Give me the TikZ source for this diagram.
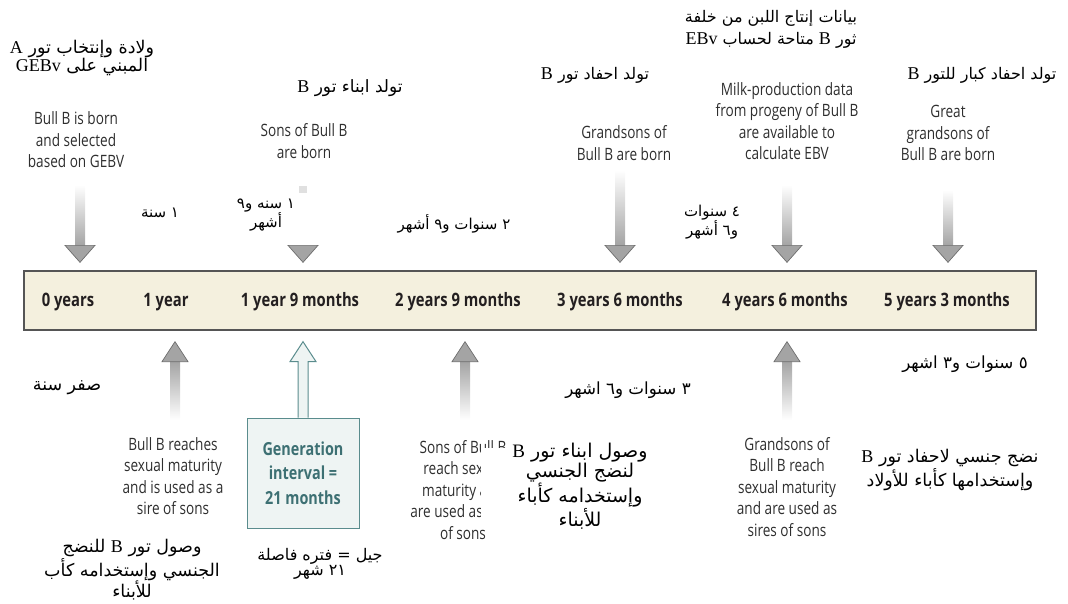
\documentclass[tikz,border=0pt]{standalone}
\usepackage{fontspec}
\usetikzlibrary{calc}
\TeXXeTstate=1
\newfontfamily\arabicfont[Script=Arabic]{DejaVu Sans}
\newfontfamily\tnr{Liberation Serif}
\newfontfamily\cond[FakeStretch=0.8]{Open Sans}
\newcommand\lat[2][18]{{\tnr\fontsize{#1}{14}\selectfont\beginL#2\endL}}
\newcommand\rl[1]{\beginR#1\endR}
\definecolor{cream}{HTML}{F4F0DE}
\definecolor{boxline}{HTML}{555555}
\definecolor{arrgray}{HTML}{A4A4A4}
\definecolor{arredge}{HTML}{6E6E6E}
\definecolor{tealline}{HTML}{5A8C8D}
\definecolor{tealfill}{HTML}{EEF4F3}
\definecolor{tealtext}{HTML}{3D7073}
\definecolor{entext}{HTML}{2E2E2E}
\definecolor{tltext}{HTML}{231F20}
\newcommand\DownArrow[3][white]{%
  \shade[top color=#1, bottom color=arrgray] ($(#2)+(-5,0)$) rectangle ($(#3)+(5,-17)$);
  \filldraw[headstyle] ($(#3)+(-15,-17)$) -- (#3) -- ($(#3)+(15,-17)$) -- cycle;}
\newcommand\UpArrow[2]{%
  \shade[top color=arrgray, bottom color=white] ($(#1)+(-5,20)$) rectangle ($(#2)+(5,0)$);
  \filldraw[headstyle] ($(#1)+(-13,20)$) -- (#1) -- ($(#1)+(13,20)$) -- cycle;}
\tikzset{
  en/.style={font=\cond\fontsize{17}{21.5}\selectfont, text=entext, align=center, inner sep=0pt},
  tlab/.style={font=\cond\bfseries\fontsize{18.5}{22}\selectfont, text=tltext, inner sep=0pt},
  ar/.style={font=\arabicfont\fontsize{16}{18}\selectfont, align=center, inner sep=0pt},
  arm/.style={font=\arabicfont\fontsize{15}{14}\selectfont, align=center, inner sep=0pt},
  headstyle/.style={fill=arrgray, draw=arredge, line width=0.7pt, line join=miter},
  tlbox/.style={draw=boxline, fill=cream, line width=1.3pt, minimum width=1012, minimum height=59, inner sep=0pt},
  genbox/.style={draw=tealline, fill=tealfill, line width=1pt, minimum width=112, minimum height=110, inner sep=0pt,
    font=\cond\bfseries\fontsize{18}{24.5}\selectfont, text=tealtext, align=center},
}
\begin{document}
\begin{tikzpicture}[x=1pt,y=-1pt]
\useasboundingbox (0,0) rectangle (1068,603);

% timeline
\node[tlbox] (tl) at (530,300.5) {};
\node[tlab] (t0) at (68,302) {0 years};
\node[tlab] (t1) at (166,302) {1 year};
\node[tlab] (t2) at (300,302) {1 year 9 months};
\node[tlab] (t3) at (458,302) {2 years 9 months};
\node[tlab] (t4) at (620,302) {3 years 6 months};
\node[tlab] (t5) at (785,302) {4 years 6 months};
\node[tlab] (t6) at (947,302) {5 years 3 months};

% top English labels
\node[en] (e0) at (76,140) {Bull B is born\\and selected\\based on GEBV};
\node[en] (e1) at (304,141) {Sons of Bull B\\are born};
\node[en] (e2) at (624,143) {Grandsons of\\Bull B are born};
\node[en] (e3) at (787,121) {Milk-production data\\from progeny of Bull B\\are available to\\calculate EBV};
\node[en] (e4) at (948,133) {Great\\grandsons of\\Bull B are born};

% top Arabic labels
\node[ar, font=\arabicfont\fontsize{17.5}{16.5}\selectfont] (a0) at (82,58) {\rl{ولادة وإنتخاب تور \lat{A}}\\\rl{المبني على \lat{GEBv}}};
\node[ar, font=\arabicfont\fontsize{17}{18}\selectfont] (a1) at (350,88) {\rl{تولد ابناء تور \lat{B}}};
\node[ar] (a2) at (595,75) {\rl{تولد احفاد تور \lat{B}}};
\node[ar, font=\arabicfont\fontsize{16}{22}\selectfont] (a3) at (771,29) {\rl{بيانات إنتاج اللبن من خلفة}\\\rl{ثور \lat{B} متاحة لحساب \lat{EBv}}};
\node[ar] (a4) at (982,75) {\rl{تولد احفاد كبار للتور \lat{B}}};

% middle Arabic labels
\node[arm] (m1) at (160,213) {\rl{١ سنة}};
\node[arm] (m2) at (266,215) {\rl{١ سنه و٩}\\\rl{أشهر}};
\node[arm] (m3) at (454,224) {\rl{٢ سنوات و٩ أشهر}};
\node[arm] (m4) at (712,222) {\rl{٤ سنوات}\\\rl{و٦ أشهر}};

% down arrows
\coordinate (d0s) at (80,185);
\coordinate (d0t) at ($(d0s |- tl.north)+(0,-8)$);
\DownArrow{d0s}{d0t}
\coordinate (d1s) at (303,186);
\coordinate (d1t) at ($(d1s |- tl.north)+(0,-8)$);
\fill[black!12] ($(d1s)+(-4,0)$) rectangle ($(d1s)+(4,7)$);
\filldraw[headstyle] ($(d1t)+(-15,-17)$) -- (d1t) -- ($(d1t)+(15,-17)$) -- cycle;
\coordinate (d2s) at (620,170);
\coordinate (d2t) at ($(d2s |- tl.north)+(0,-8)$);
\DownArrow{d2s}{d2t}
\coordinate (d3s) at (787,185);
\coordinate (d3t) at ($(d3s |- tl.north)+(0,-8)$);
\DownArrow{d3s}{d3t}
\coordinate (d4s) at (948,190);
\coordinate (d4t) at ($(d4s |- tl.north)+(0,-8)$);
\DownArrow{d4s}{d4t}

% up arrows
\coordinate (u1e) at (175,420);
\coordinate (u1t) at ($(u1e |- tl.south)+(0,11)$);
\UpArrow{u1t}{u1e}
\coordinate (u3e) at (465,420);
\coordinate (u3t) at ($(u3e |- tl.south)+(0,11)$);
\UpArrow{u3t}{u3e}
\coordinate (u5e) at (787,420);
\coordinate (u5t) at ($(u5e |- tl.south)+(0,11)$);
\UpArrow{u5t}{u5e}

% generation interval
\node[genbox] (gen) at (303,473) {Generation\\interval =\\21 months};
\coordinate (gt) at ($(gen.north |- tl.south)+(0,11)$);
\filldraw[draw=tealline, fill=tealfill, line width=1pt, line join=miter]
  ($(gen.north)+(-5,0)$) -- ($(gt)+(-5,20)$) -- ($(gt)+(-13,20)$) -- (gt)
  -- ($(gt)+(13,20)$) -- ($(gt)+(5,20)$) -- ($(gen.north)+(5,0)$);

% bottom English labels
\node[en] (b1) at (173,476) {Bull B reaches\\sexual maturity\\and is used as a\\sire of sons};
\node[en] (b3) at (463,490) {Sons of Bull B\\reach sexual\\maturity and\\are used as sires\\of sons};
\node[en] (b5) at (787,487) {Grandsons of\\Bull B reach\\sexual maturity\\and are used as\\sires of sons};

% white patch hiding part of b3, as in the reference
\node[fill=white, inner sep=0pt, minimum width=46, minimum height=80, anchor=north west] (cover) at (481,448) {};

% bottom Arabic labels
\node[ar, font=\arabicfont\fontsize{17.5}{18}\selectfont] (n0) at (67,388) {\rl{صفر سنة}};
\node[ar, font=\arabicfont\fontsize{16.7}{18}\selectfont] (n4) at (628,390) {\rl{٣ سنوات و٦ اشهر}};
\node[ar, font=\arabicfont\fontsize{16.7}{18}\selectfont] (n6) at (965,364) {\rl{٥ سنوات و٣ اشهر}};
\node[ar, font=\arabicfont\fontsize{19}{17}\selectfont] (ab3) at (580,486)
  {\rl{وصول ابناء تور \lat[19]{B}}\\\rl{لنضج الجنسي}\\\rl{وإستخدامه كأباء}\\\rl{للأبناء}};
\node[ar, font=\arabicfont\fontsize{17.5}{15}\selectfont] (ab6) at (950,470) {\rl{نضج جنسي لاحفاد تور \lat{B}}\\\rl{وإستخدامها كأباء للأولاد}};
\node[ar, font=\arabicfont\fontsize{17.5}{15}\selectfont] (ab1) at (132,570) {\rl{وصول تور \lat{B} للنضج}\\\rl{الجنسي وإستخدامه كأب}\\\rl{للأبناء}};
\node[ar, font=\arabicfont\fontsize{16}{15}\selectfont] (abg) at (320,564) {\rl{جيل = فتره فاصلة}\\\rl{٢١ شهر}};
\end{tikzpicture}
\end{document}
